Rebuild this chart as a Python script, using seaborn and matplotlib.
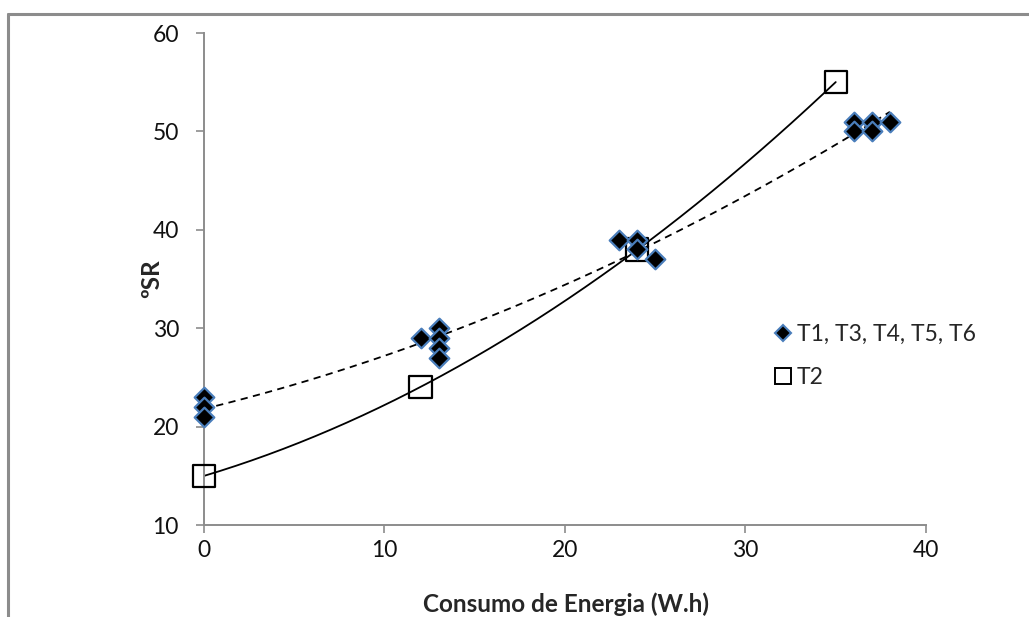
import numpy as np
import pandas as pd
import matplotlib
matplotlib.use("Agg")
import matplotlib.pyplot as plt
from matplotlib.lines import Line2D
import seaborn as sns

# Treatments T1, T3, T4, T5, T6: energy consumption (W.h) vs degrees SR
grupo_x = [0, 0, 0, 12, 13, 13, 13, 13, 23, 24, 24, 25, 36, 36, 37, 37, 38]
grupo_y = [23, 22, 21, 29, 30, 29, 28, 27, 39, 39, 38, 37, 51, 50, 51, 50, 51]

# Treatment T2
t2_x = [0, 12, 24, 35]
t2_y = [15, 24, 38, 55]

grupo_label = "T1, T3, T4, T5, T6"
t2_label = "T2"
x_label = "Consumo de Energia (W.h)"
y_label = "ºSR"
x_ticks = [0, 10, 20, 30, 40]
y_ticks = [10, 20, 30, 40, 50, 60]

sns.set_theme(style="white")
plt.rcParams["font.family"] = ["Lato", "DejaVu Sans"]

fig = plt.figure(figsize=(10.29, 6.17), dpi=100)
ax = fig.add_axes([0.1982, 0.1491, 0.7017, 0.7974])

df_g = pd.DataFrame({"x": grupo_x, "y": grupo_y})
df_t2 = pd.DataFrame({"x": t2_x, "y": t2_y})

# Second-order polynomial trendlines
cg = np.polyfit(grupo_x, grupo_y, 2)
xg = np.linspace(min(grupo_x), max(grupo_x), 200)
ct = np.polyfit(t2_x, t2_y, 2)
xt = np.linspace(min(t2_x), max(t2_x), 200)

sns.lineplot(x=xg, y=np.polyval(cg, xg), ax=ax, color="black", lw=1.3,
             linestyle=(0, (4, 3)), zorder=2)
sns.lineplot(x=xt, y=np.polyval(ct, xt), ax=ax, color="black", lw=1.3, zorder=2)

sns.scatterplot(data=df_t2, x="x", y="y", ax=ax, marker="s", s=260,
                facecolor="none", edgecolor="black", linewidth=1.6, zorder=3,
                clip_on=False)
sns.scatterplot(data=df_g, x="x", y="y", ax=ax, marker="D", s=100,
                color="black", edgecolor="#4a7ebb", linewidth=1.6, zorder=4,
                clip_on=False)

ax.set_xlim(0, 40)
ax.set_ylim(10, 60)
ax.set_xticks(x_ticks)
ax.set_yticks(y_ticks)
ax.tick_params(axis="both", labelsize=16.5, colors="#111111", length=6,
               width=1.2, direction="out", bottom=True, left=True,
               color="#8c8c8c")
ax.tick_params(axis="y", pad=12)
ax.tick_params(axis="x", pad=5)
for side in ("top", "right"):
    ax.spines[side].set_visible(False)
for side in ("left", "bottom"):
    ax.spines[side].set_color("#8c8c8c")
    ax.spines[side].set_linewidth(1.4)
ax.set_xlabel(x_label, fontsize=17.5, fontweight="bold")
ax.set_ylabel(y_label, fontsize=17.5, fontweight="bold")
ax.xaxis.set_label_coords(0.501, -0.138)
ax.yaxis.set_label_coords(-0.056, 0.5)
ax.grid(False)

handles = [
    Line2D([], [], marker="D", ls="none", markersize=8, markerfacecolor="black",
           markeredgecolor="#4a7ebb", markeredgewidth=1.5),
    Line2D([], [], marker="s", ls="none", markersize=11, markerfacecolor="none",
           markeredgecolor="black", markeredgewidth=1.4),
]
fig.legend(handles, [grupo_label, t2_label], loc="upper left",
           bbox_to_anchor=(0.732, 0.508), frameon=False, fontsize=16.5,
           handlelength=0.8, handletextpad=0.2, labelspacing=0.95)

# Outer chart frame
fig.add_artist(Line2D([0.0075, 1.0], [1 - 14 / 617, 1 - 14 / 617],
                      color="#8c8c8c", lw=2.2, transform=fig.transFigure))
fig.add_artist(Line2D([0.0075, 0.0075], [0.0, 1 - 14 / 617],
                      color="#8c8c8c", lw=2.2, transform=fig.transFigure))

fig.savefig("out.png", dpi=100, facecolor="white")
